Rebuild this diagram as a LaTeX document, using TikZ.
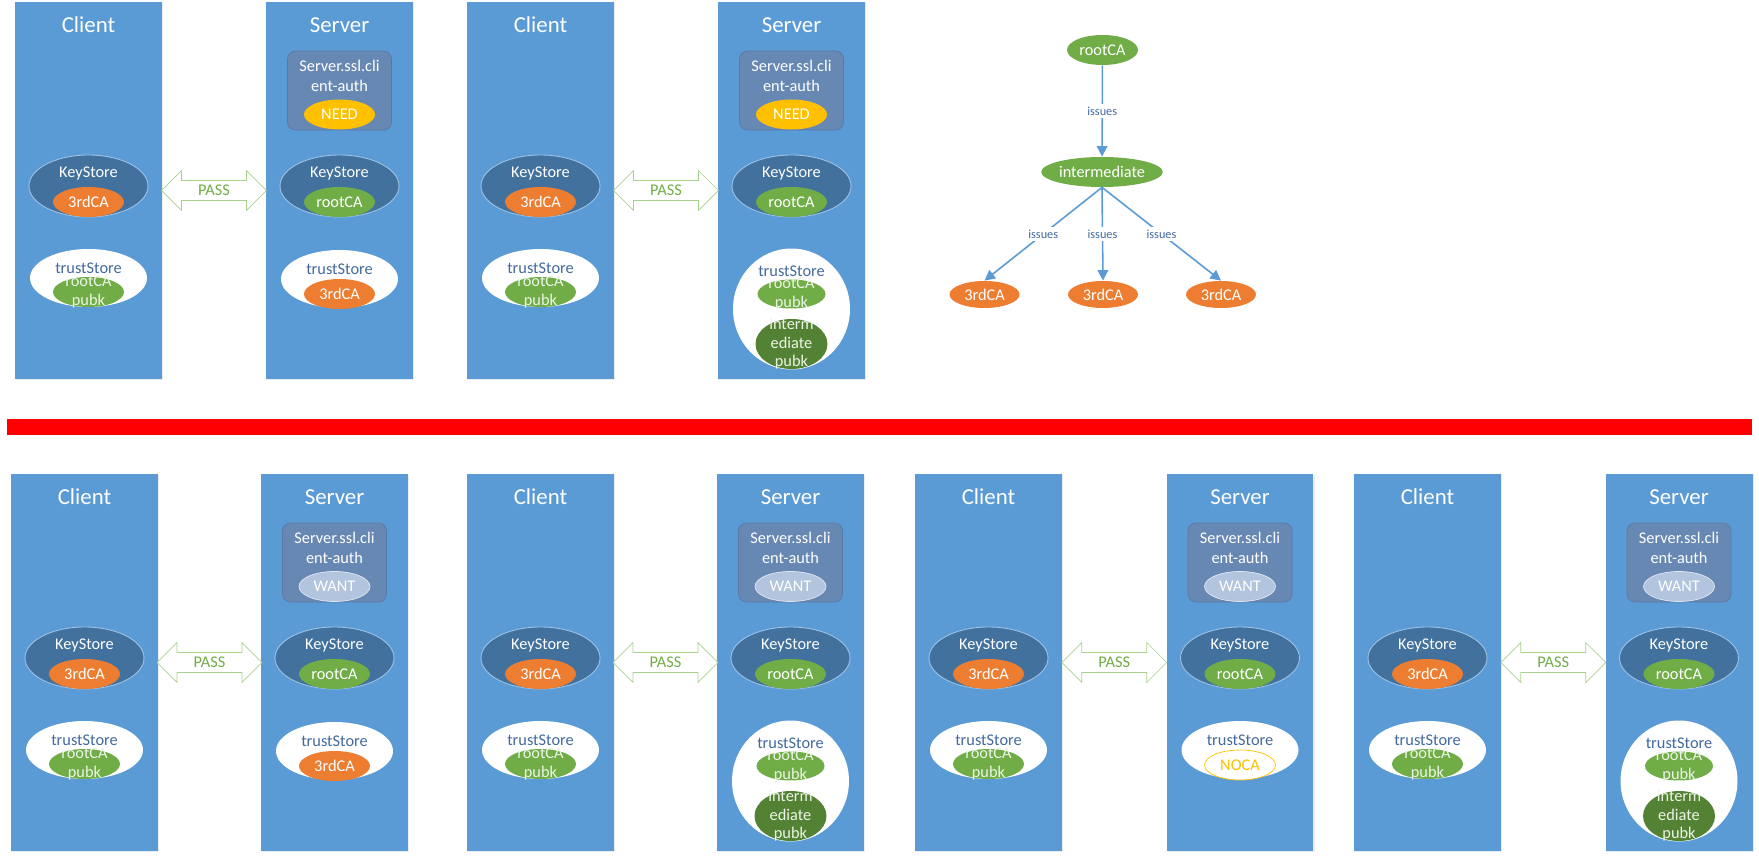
\documentclass[tikz,border=0pt]{standalone}
\usepackage{fontspec}
\setmainfont{Carlito}
\usetikzlibrary{shapes.geometric,shapes.arrows,arrows.meta,shadows,calc}

\definecolor{panelblue}{RGB}{91,155,213}
\definecolor{storeblue}{RGB}{65,113,156}
\definecolor{storeline}{RGB}{157,195,230}
\definecolor{boxblue}{RGB}{104,136,180}
\definecolor{boxline}{RGB}{88,120,166}
\definecolor{caorange}{RGB}{237,125,49}
\definecolor{cagreen}{RGB}{112,173,71}
\definecolor{darkgreen}{RGB}{84,130,53}
\definecolor{needgold}{RGB}{255,192,0}
\definecolor{wantgray}{RGB}{178,196,222}
\definecolor{labelblue}{RGB}{68,105,160}
\definecolor{pubkwhite}{RGB}{236,244,230}
\definecolor{passline}{RGB}{169,209,142}
\definecolor{issueblue}{RGB}{91,155,213}

\tikzset{
  bodyfont/.style={font=\fontsize{9.3}{11.3}\selectfont},
  panel/.style={fill=panelblue, minimum width=2.94cm, minimum height=7.54cm, inner sep=0pt,
    drop shadow={opacity=0.15, shadow xshift=0.6pt, shadow yshift=-0.8pt}},
  paneltitle/.style={text=white, font=\fontsize{13}{15}\selectfont},
  keystore/.style={ellipse, fill=storeblue, draw=storeline, line width=0.5pt,
    minimum width=2.38cm, minimum height=1.24cm, inner sep=0pt},
  trust/.style={ellipse, fill=white, minimum width=2.34cm, minimum height=1.16cm, inner sep=0pt},
  ca/.style={ellipse, minimum width=1.42cm, minimum height=0.6cm, inner sep=0pt, text=white, bodyfont},
  orangeca/.style={ca, fill=caorange},
  greenca/.style={ca, fill=cagreen},
  need/.style={ca, fill=needgold},
  want/.style={ca, fill=wantgray, draw=white!60!wantgray},
  noca/.style={ca, fill=white, draw=needgold, text=needgold},
  authbox/.style={rectangle, rounded corners=0.16cm, fill=boxblue, draw=boxline,
    minimum width=2.08cm, minimum height=1.58cm},
  storetext/.style={text=white, bodyfont, inner sep=0pt},
  trusttext/.style={text=labelblue, bodyfont, inner sep=0pt},
  pubktext/.style={text=pubkwhite, bodyfont, align=center, inner sep=0pt},
  pass/.style={double arrow, draw=passline, fill=white, text=cagreen, bodyfont,
    double arrow head extend=0.2cm, minimum height=2.1cm, inner xsep=0pt, inner ysep=2.4pt},
  issue/.style={draw=issueblue, line width=0.9pt, -{Triangle[width=6pt,length=6pt]}},
  issuetext/.style={fill=white, text=labelblue, font=\fontsize{7}{8}\selectfont, inner sep=1.5pt}
}

\begin{document}
\begin{tikzpicture}[x=0.02cm, y=-0.02cm]
  \useasboundingbox (0,0) rectangle (1759,861);

  % Clients
  \foreach \cx/\ty/\n in {88.5/2/c1, 540.5/2/c2, 84.5/474/c3, 540.5/474/c4, 988.5/474/c5, 1427.5/474/c6}{
    \node[panel] (\n) at (\cx,\ty+188.5) {};
    \node[paneltitle] (\n-t) at (\cx,\ty+23) {Client};
    \node[keystore] (\n-ks) at (\cx,\ty+184) {};
    \node[storetext] (\n-kst) at (\cx,\ty+172) {KeyStore};
    \node[orangeca] (\n-kc) at (\cx,\ty+200) {3rdCA};
    \node[trust] (\n-ts) at (\cx,\ty+276) {};
    \node[trusttext] (\n-tst) at (\cx,\ty+266) {trustStore};
    \node[greenca, label={[pubktext]center:{rootCA\\pubk}}] (\n-tc) at (\cx,\ty+290) {};
  }

  % Servers
  \foreach \cx/\ty/\n/\mode/\modetext in {339.5/2/s1/need/NEED, 791.5/2/s2/need/NEED,
      334.5/474/s3/want/WANT, 790.5/474/s4/want/WANT, 1240/474/s5/want/WANT, 1679/474/s6/want/WANT}{
    \node[panel] (\n) at (\cx,\ty+188.5) {};
    \node[paneltitle] (\n-t) at (\cx,\ty+23) {Server};
    \node[authbox] (\n-ab) at (\cx,\ty+88.5) {};
    \node[storetext, align=center] (\n-abt) at (\cx,\ty+74) {Server.ssl.cli\\ent-auth};
    \node[\mode] (\n-am) at (\cx,\ty+112.5) {\modetext};
    \node[keystore] (\n-ks) at (\cx,\ty+184) {};
    \node[storetext] (\n-kst) at (\cx,\ty+172) {KeyStore};
    \node[greenca] (\n-kc) at (\cx,\ty+200) {rootCA};
  }

  % server trustStore with 3rdCA
  \foreach \cx/\ty/\n in {339.5/2/s1, 334.5/474/s3}{
    \node[trust] (\n-ts) at (\cx,\ty+277) {};
    \node[trusttext] (\n-tst) at (\cx,\ty+267) {trustStore};
    \node[orangeca] (\n-tc) at (\cx,\ty+292) {3rdCA};
  }

  % server trustStore with rootCA and intermediate
  \foreach \cx/\ty/\n in {791.5/2/s2, 790.5/474/s4, 1679/474/s6}{
    \node[trust, minimum height=2.42cm] (\n-ts) at (\cx,\ty+307) {};
    \node[trusttext] (\n-tst) at (\cx,\ty+269) {trustStore};
    \node[greenca, minimum width=1.36cm, minimum height=0.58cm,
      label={[pubktext]center:{rootCA\\pubk}}] (\n-tc) at (\cx,\ty+292) {};
    \node[ca, fill=darkgreen, minimum width=1.44cm, minimum height=1cm,
      label={[pubktext, font=\fontsize{9.3}{10.5}\selectfont]center:{interm\\ediate\\pubk}}] (\n-ti) at (\cx,\ty+342) {};
  }

  % server trustStore without CA
  \node[trust] (s5-ts) at (1240,750) {};
  \node[trusttext] (s5-tst) at (1240,740) {trustStore};
  \node[noca] (s5-tc) at (1240,765) {NOCA};

  % PASS arrows
  \foreach \i in {1,...,6}
    \node[pass] (p\i) at ($(c\i.east)!0.5!(s\i.west)$) {PASS};

  % Separator
  \fill[red] (7,419) rectangle (1752,435);

  % Certificate chain
  \node[greenca] (root) at (1102.5,50) {rootCA};
  \node[greenca, minimum width=2.38cm] (inter) at (1102,172) {intermediate};
  \node[orangeca, minimum width=1.4cm, minimum height=0.54cm] (leaf1) at (984.5,294.5) {3rdCA};
  \node[orangeca, minimum width=1.4cm, minimum height=0.54cm] (leaf2) at (1103,294.5) {3rdCA};
  \node[orangeca, minimum width=1.4cm, minimum height=0.54cm] (leaf3) at (1221,294.5) {3rdCA};
  \draw[issue] (root) -- node[issuetext] {issues} (inter);
  \foreach \i in {1,2,3}
    \draw[issue] (inter.south) -- node[issuetext] {issues} (leaf\i.north);
\end{tikzpicture}
\end{document}
